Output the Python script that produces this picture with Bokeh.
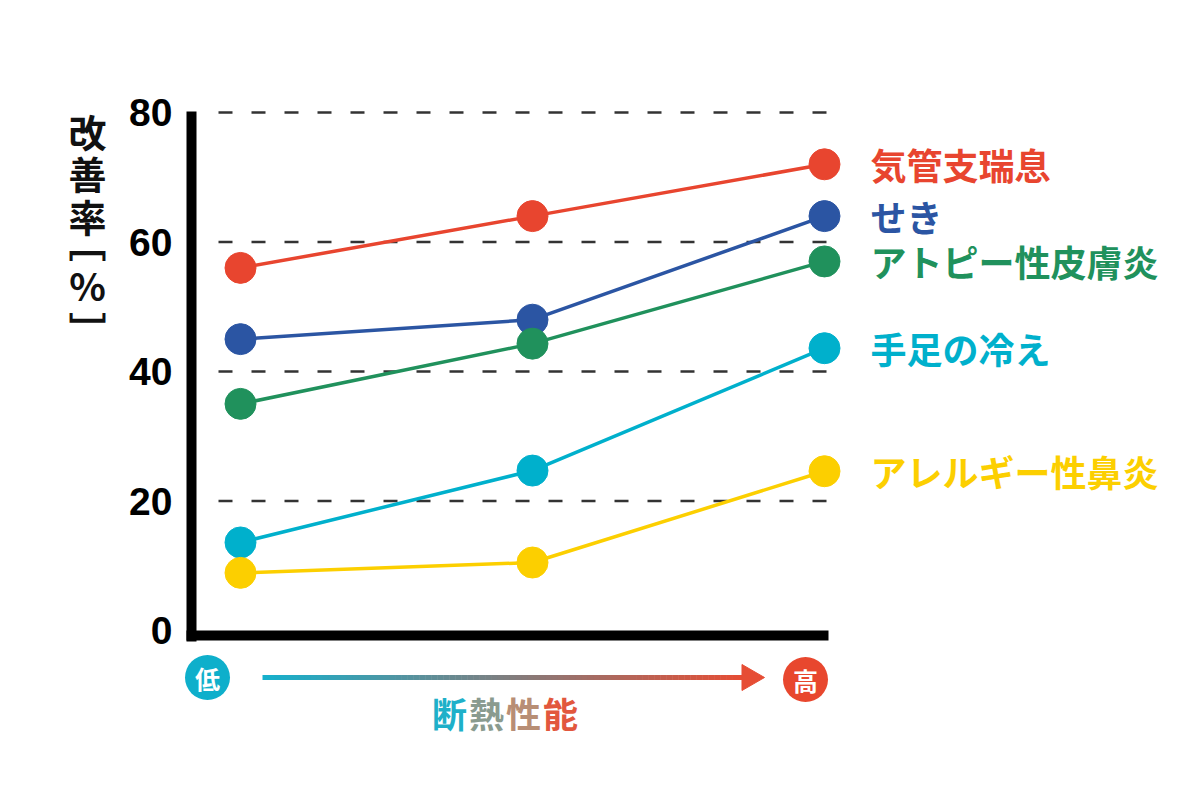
import numpy as np
from bokeh.plotting import figure
from bokeh.layouts import row
from bokeh.models import Range1d, FixedTicker
from bokeh.core.properties import value
from bokeh.embed import file_html
from bokeh.resources import INLINE

# ---------------- data ----------------
levels = ["低", "中", "高"]          # insulation performance level
x_pos = [0, 1, 2]
series_names = ["気管支瑞息", "せき", "アトピー性皮膚炎", "手足の冷え", "アレルギー性鼻炎"]
asthma = [56.0, 64.0, 72.0]
cough = [45.0, 48.0, 64.0]
atopic = [35.0, 44.3, 57.0]
cold_limbs = [13.6, 24.7, 43.6]
rhinitis = [8.9, 10.5, 24.6]
series_values = [asthma, cough, atopic, cold_limbs, rhinitis]
y_ticks = [0, 20, 40, 60, 80]
grid_ticks = [20, 40, 60, 80]
y_title_chars = ["改", "善", "率", "﹇", "%", "﹈"]
x_title_chars = ["断", "熱", "性", "能"]
low_text, high_text = "低", "高"

# ---------------- styles ----------------
colors = ["#e8452f", "#2b55a3", "#20915c", "#00b0cc", "#fccf00"]
CYAN = (22, 176, 204)
RED = (230, 77, 52)
x_title_colors = ["#1eb0c9", "#8a9b8f", "#b88e75", "#e2573d"]
JP = "Noto Sans CJK JP"

PXX = 292.0     # px per x unit
PXY = 6.475     # px per y unit
def dx(px):
    return px / PXX
def dy(px):
    return px / PXY

LEFT_W = 120
FL, FT = 60, 100
FW, FH = 1002, 684
x0 = x_pos[0] - dx(60)
y1 = y_ticks[-1] + dy(12)
y_rng = Range1d(y1 - dy(FH), y1)

# ---------- narrow left panel: stacked upright y-axis title ----------
t = figure(frame_width=LEFT_W, frame_height=FH,
           min_border_left=0, min_border_right=0, min_border_top=FT, min_border_bottom=0,
           x_range=Range1d(0, LEFT_W), y_range=y_rng,
           x_axis_location=None, y_axis_location=None,
           output_backend="svg", toolbar_location=None)
t.outline_line_color = None
t.xgrid.visible = False
t.ygrid.visible = False
title_offsets = [18, 60, 103, 128, 172, 216]   # px below the top gridline
t.text(x=[87] * len(y_title_chars), y=[y_ticks[-1] - dy(o) for o in title_offsets],
       text=y_title_chars, text_color="#111111", text_font=value(JP),
       text_font_style="bold", text_font_size="38px",
       text_align="center", text_baseline="middle")

# ---------- main chart ----------
p = figure(frame_width=FW, frame_height=FH,
           min_border_left=FL, min_border_top=FT, min_border_right=2, min_border_bottom=0,
           x_range=Range1d(x0, x0 + dx(FW)), y_range=y_rng,
           x_axis_location=None, y_axis_location="left",
           output_backend="svg", toolbar_location=None)
p.outline_line_color = None
p.xgrid.visible = False
p.ygrid.visible = False

ax = p.yaxis[0]
ax.ticker = FixedTicker(ticks=y_ticks)
ax.axis_line_color = None
ax.major_tick_line_color = None
ax.minor_tick_line_color = None
ax.major_tick_out = 0
ax.major_tick_in = 0
ax.major_label_standoff = 8
ax.major_label_text_font = "Liberation Sans"
ax.major_label_text_font_style = "bold"
ax.major_label_text_font_size = "39px"
ax.major_label_text_color = "black"

# dashed grid lines
n_g = len(grid_ticks)
p.segment(x0=[x_pos[0] - dx(22)] * n_g, y0=grid_ticks,
          x1=[x_pos[-1] + dx(4)] * n_g, y1=grid_ticks,
          line_color="#333333", line_width=2.5, line_dash="14 19")

# axis lines (thick black L)
axis_x = x_pos[0] - dx(49)
p.segment(x0=[axis_x], y0=[y_ticks[-1] + dy(1)], x1=[axis_x], y1=[y_ticks[0] - dy(11)],
          line_color="black", line_width=10, line_cap="butt")
p.segment(x0=[axis_x - dx(5)], y0=[y_ticks[0] - dy(5)], x1=[x_pos[-1] + dx(4)], y1=[y_ticks[0] - dy(5)],
          line_color="black", line_width=10, line_cap="butt")

# series
for vals, c in zip(series_values, colors):
    p.line(x_pos, vals, line_color=c, line_width=3.5)
for vals, c in zip(series_values, colors):
    p.scatter(x_pos, vals, size=31, fill_color=c, line_color=c)

# right-hand series labels
p.text(x=[x_pos[-1] + dx(46)] * len(series_names), y=[v[-1] for v in series_values],
       text=series_names, text_color=colors, text_font=value(JP), text_font_style="bold",
       text_font_size="36px", text_align="left", text_baseline="middle")

# bottom: low / high markers
lh_x = [x_pos[0] - dx(33), x_pos[-1] - dx(19)]
lh_y = [y_ticks[0] - dy(47), y_ticks[0] - dy(49)]
p.scatter(lh_x, lh_y, size=45, fill_color=["#0eafcb", "#e8472e"], line_color=None)
p.text(x=lh_x, y=lh_y, text=[low_text, high_text], text_color="white",
       text_font=value(JP), text_font_style="bold", text_font_size="25px",
       text_align="center", text_baseline="middle")

# gradient arrow
n = 80
xs = np.linspace(x_pos[0] + dx(22), x_pos[-1] - dx(80), n + 1)
def mix(f):
    r = int(round(CYAN[0] + (RED[0] - CYAN[0]) * f))
    g = int(round(CYAN[1] + (RED[1] - CYAN[1]) * f))
    b = int(round(CYAN[2] + (RED[2] - CYAN[2]) * f))
    return "#%02x%02x%02x" % (r, g, b)
seg_colors = [mix(i / (n - 1)) for i in range(n)]
arrow_y = y_ticks[0] - dy(47)
p.segment(x0=xs[:-1], y0=[arrow_y] * n, x1=xs[1:] + dx(0.5), y1=[arrow_y] * n,
          line_color=seg_colors, line_width=5, line_cap="butt")
p.scatter([x_pos[-1] - dx(75)], [arrow_y], marker="triangle", size=26, angle=-np.pi / 2,
          fill_color=mix(1.0), line_color=mix(1.0))

# bottom title with gradient colours
p.text(x=[x_pos[0] + dx(209 + 37 * i) for i in range(len(x_title_chars))],
       y=[y_ticks[0] - dy(82)] * len(x_title_chars),
       text=x_title_chars, text_color=x_title_colors, text_font=value(JP),
       text_font_style="bold", text_font_size="35px",
       text_align="center", text_baseline="middle")

layout = row(t, p)
open("out.html", "w").write(file_html(layout, INLINE))
